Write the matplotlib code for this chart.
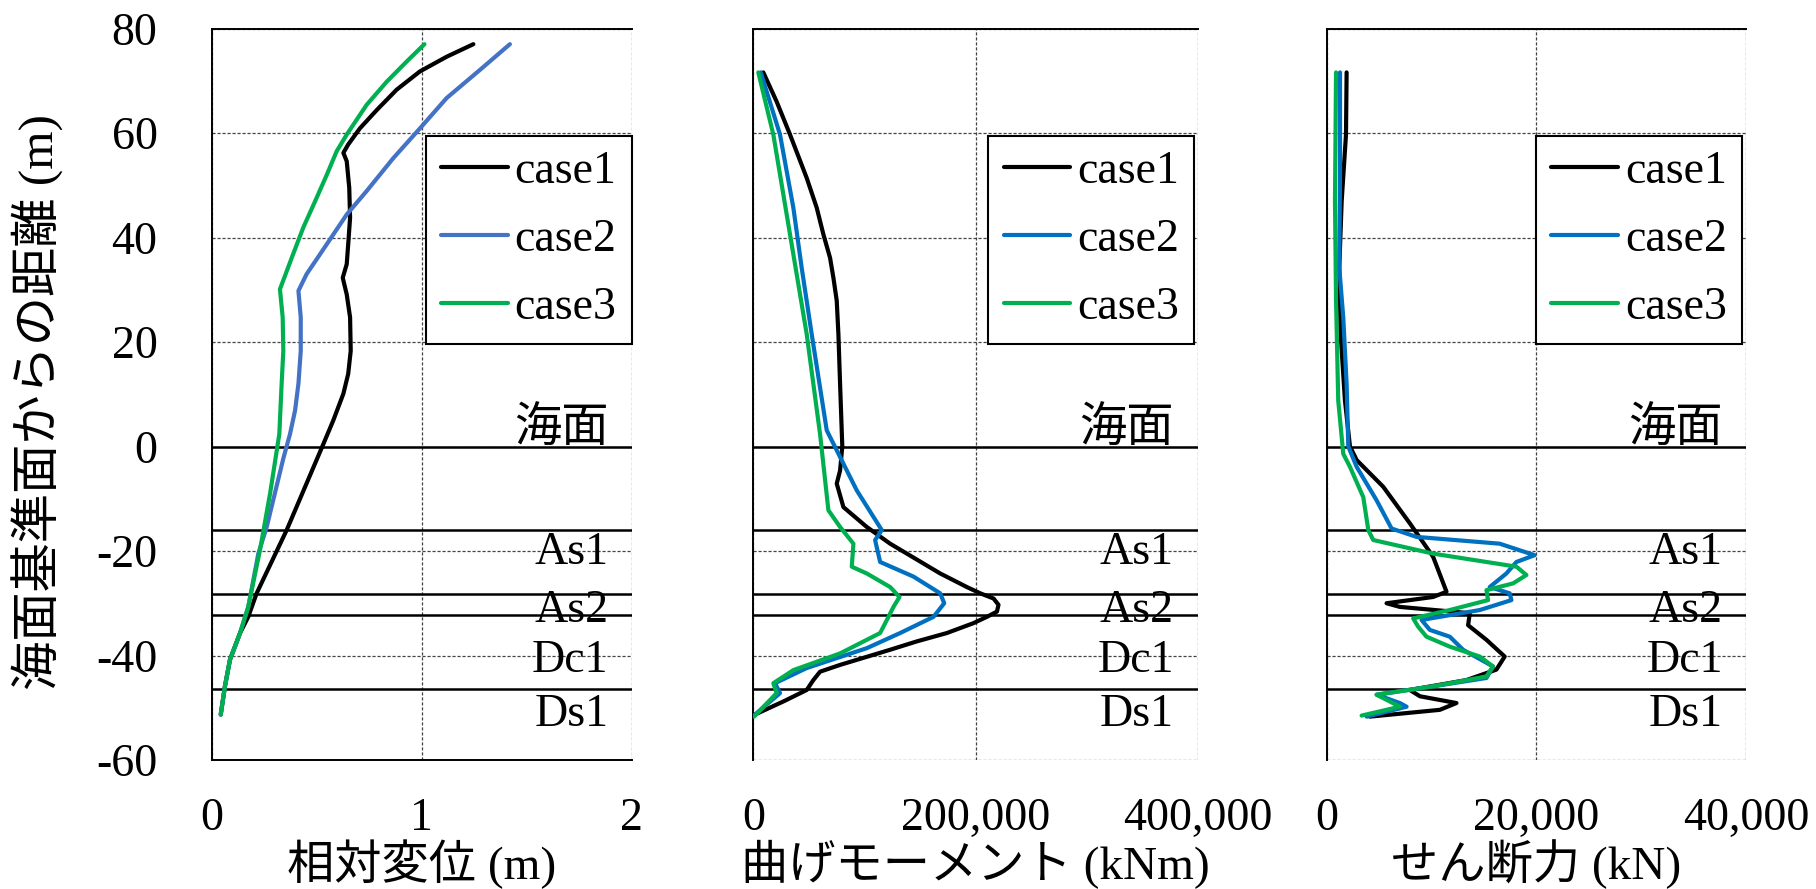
import matplotlib
matplotlib.use('Agg')
import matplotlib.pyplot as plt
from matplotlib.ticker import FuncFormatter

plt.rcParams['font.family'] = ['Liberation Serif', 'Noto Sans CJK JP']
plt.rcParams['axes.unicode_minus'] = False

# ---- data (depth in m, value) ----
case_names = ['case1', 'case2', 'case3']

# relative displacement (m)
disp_y1 = [77, 74.6, 71.8, 68.3, 64.4, 60.9, 57.8, 56.2, 54.6, 49.5, 43.8, 38.7, 34.9, 32.3, 29.1, 24.7, 18.3,
           13.9, 10.1, 5.0, 0.5, -16.0, -28.1, -32.6, -35.7, -40.8, -45.9, -51.3]
disp_x1 = [1.246, 1.119, 0.992, 0.881, 0.786, 0.706, 0.65, 0.627, 0.643, 0.655, 0.659, 0.65, 0.643, 0.624, 0.643,
           0.659, 0.662, 0.65, 0.627, 0.579, 0.532, 0.357, 0.214, 0.174, 0.135, 0.087, 0.063, 0.043]
disp_y2 = [77, 72.1, 66.7, 60.9, 55.2, 48.9, 44.4, 36.8, 33.0, 29.8, 24.7, 18.3, 12.0, 6.9, 2.4, -2.3, -15.4,
           -20.5, -30.7, -35.7, -40.8, -45.9, -51.3]
disp_x2 = [1.42, 1.278, 1.119, 0.992, 0.865, 0.738, 0.643, 0.516, 0.452, 0.413, 0.424, 0.424, 0.413, 0.397, 0.373,
           0.341, 0.262, 0.222, 0.174, 0.135, 0.087, 0.063, 0.043]
disp_y3 = [77, 73.7, 69.8, 65.4, 59.7, 56.5, 52.0, 46.9, 41.9, 36.1, 30.1, 24.7, 18.3, 12.0, 2.4, -9.0, -19.8,
           -30.7, -35.7, -40.8, -45.9, -51.3]
disp_x3 = [1.013, 0.929, 0.833, 0.738, 0.643, 0.595, 0.548, 0.492, 0.436, 0.381, 0.325, 0.338, 0.341, 0.333, 0.322,
           0.278, 0.23, 0.174, 0.135, 0.087, 0.063, 0.043]

# bending moment (kNm)
mom_y1 = [71.6, 66.0, 59.7, 51.4, 45.7, 40.6, 36.1, 32.3, 27.9, 21.5, 12.0, 0.0, -4.6, -7.1, -11.6, -15.4, -18.6,
          -24.3, -26.9, -28.1, -29.1, -30.3, -31.6, -32.6, -33.8, -35.7, -37.3, -38.9, -41.8, -43.1, -44.7, -46.6,
          -48.8, -51.3]
mom_x1 = [9000, 21000, 33000, 48000, 57000, 63000, 69000, 72000, 75000, 76500, 78000, 80000, 78000, 75000, 81000,
          102000, 123000, 168000, 192000, 204000, 216000, 220400, 219000, 210000, 198000, 174000, 147000, 123000,
          78000, 60000, 54000, 48000, 27000, 1500]
mom_y2 = [71.6, 59.7, 45.7, 34.2, 21.5, 3.1, -8.4, -16.0, -17.9, -22.1, -24.9, -28.1, -30.0, -32.6, -35.7, -38.6,
          -42.4, -45.3, -47.2, -51.3]
mom_x2 = [6700, 24000, 36000, 43500, 52500, 66000, 93000, 115500, 109500, 114000, 144000, 168000, 171600, 162000,
          132000, 102000, 48000, 19500, 24000, 1500]
mom_y3 = [71.6, 59.7, 40.6, 21.5, 2.4, -12.2, -15.4, -18.6, -23.0, -24.3, -26.9, -28.8, -30.7, -32.6, -35.7,
          -39.6, -42.8, -45.3, -47.2, -51.7]
mom_x3 = [4500, 18000, 33000, 48000, 60000, 67500, 78000, 90000, 88500, 102000, 123000, 131400, 126000, 121500,
          114000, 78000, 36000, 18000, 21000, 600]

# shear force (kN)
shear_y1 = [71.6, 59.7, 47.0, 34.2, 21.5, 8.8, 0.0, -2.6, -7.7, -14.7, -21.1, -27.8, -28.8, -30.0, -30.7, -31.9,
            -34.2, -37.0, -40.2, -42.7, -44.7, -46.6, -47.8, -49.1, -50.4, -51.7]
shear_x1 = [1900, 1840, 1430, 1200, 1330, 1740, 2220, 2860, 5390, 7930, 10150, 11430, 10150, 5710, 6980, 13650,
            13490, 15240, 16980, 16190, 13330, 7930, 8890, 12380, 10790, 4120]
shear_y2 = [71.6, 52.0, 34.2, 24.7, 12.0, 0.0, -3.9, -10.3, -15.7, -17.3, -18.6, -20.8, -22.1, -24.3, -26.9,
            -28.1, -29.4, -31.3, -33.2, -35.1, -36.4, -38.9, -42.1, -44.3, -45.9, -47.5, -49.1, -49.8, -51.7]
shear_x2 = [1270, 1270, 1200, 1580, 1900, 2060, 2860, 4760, 6190, 8570, 16500, 19840, 18100, 17140, 15550,
            17460, 17620, 14600, 9050, 9840, 11740, 13010, 15870, 15240, 10150, 4760, 6980, 7620, 3810]
shear_y3 = [71.6, 47.0, 28.0, 8.8, -1.4, -3.9, -9.7, -16.0, -17.9, -20.5, -23.0, -24.6, -26.2, -27.5, -29.4,
            -31.3, -32.9, -34.5, -36.4, -38.3, -40.2, -42.1, -44.0, -45.9, -47.5, -49.8, -51.5]
shear_x3 = [890, 790, 890, 1100, 1580, 2220, 3490, 3970, 4440, 10150, 18100, 19050, 17780, 15240, 15390,
            11740, 8250, 8730, 9520, 11740, 14600, 15870, 15240, 10150, 4760, 6980, 3330]

# soil layer boundaries and labels
layer_lines = [0, -16.0, -28.2, -32.2, -46.5]
layer_names = ['海面', 'As1', 'As2', 'Dc1', 'Ds1']
layer_label_y = [0.8, -22.4, -33.5, -43.1, -53.4]

y_ticks = [-60, -40, -20, 0, 20, 40, 60, 80]
x_limits = [(0, 2), (0, 400000), (0, 40000)]
x_ticks = [[0, 1, 2], [0, 200000, 400000], [0, 20000, 40000]]
x_labels = ['相対変位 (m)', '曲げモーメント (kNm)', 'せん断力 (kN)']
y_label = '海面基準面からの距離 (m)'

series = [
    [(disp_x1, disp_y1), (disp_x2, disp_y2), (disp_x3, disp_y3)],
    [(mom_x1, mom_y1), (mom_x2, mom_y2), (mom_x3, mom_y3)],
    [(shear_x1, shear_y1), (shear_x2, shear_y2), (shear_x3, shear_y3)],
]
colors = [
    ['#000000', '#4472C4', '#00B050'],
    ['#000000', '#0070C0', '#00B050'],
    ['#000000', '#0070C0', '#00B050'],
]

W, H = 1816, 889
fig = plt.figure(figsize=(W / 100, H / 100), dpi=100)

# axes boxes in pixels: left, right (top/bottom shared)
boxes = [(211.7, 631.7), (753.3, 1198.3), (1326.7, 1746.0)]
top_px, bot_px = 28.5, 760.0

FS = 33     # latin text
FS_JP = 34  # labels containing japanese
for i, (l, r) in enumerate(boxes):
    ax = fig.add_axes([l / W, 1 - bot_px / H, (r - l) / W, (bot_px - top_px) / H])
    for (xs, ys), c, name in zip(series[i], colors[i], case_names):
        ax.plot(xs, ys, color=c, lw=3, label=name, solid_capstyle='round', solid_joinstyle='round', zorder=3)
    for yl in layer_lines:
        ax.axhline(yl, color='black', lw=1.8, zorder=2)
    for nm, yy in zip(layer_names, layer_label_y):
        ax.text(0.945, yy, nm, transform=ax.get_yaxis_transform(), ha='right', va='baseline',
                fontsize=FS_JP if nm == '海面' else FS, zorder=4)

    ax.set_xlim(*x_limits[i])
    ax.set_ylim(-60, 80)
    ax.set_xticks(x_ticks[i])
    ax.set_yticks(y_ticks)
    if i > 0:
        ax.xaxis.set_major_formatter(FuncFormatter(lambda v, p: f'{v:,.0f}'))
    ax.grid(True, linestyle=(0, (2.5, 1.5)), color='#444444', lw=0.9, zorder=1)
    ax.tick_params(axis='both', length=0, labelsize=FS)
    ax.tick_params(axis='x', pad=27)
    ax.tick_params(axis='y', pad=39, labelleft=(i == 0))

    for s in ['left', 'top', 'bottom']:
        ax.spines[s].set_linewidth(1.4)
        ax.spines[s].set_color('black')
    ax.spines['right'].set_visible(False)
    if i > 0:
        ax.spines['bottom'].set_visible(False)

    leg = ax.legend(loc='upper right', bbox_to_anchor=(1.0 if i == 0 else 0.99, 0.8535), fontsize=FS,
                    fancybox=False, framealpha=1, edgecolor='black', borderpad=0.33, handlelength=1.45,
                    handletextpad=0.15, labelspacing=0.55, borderaxespad=0)
    leg.get_frame().set_linewidth(1.5)

    ax.set_xlabel(x_labels[i], fontsize=FS_JP)
    ax.xaxis.set_label_coords(0.5, -0.1627)
    ax.xaxis.label.set_verticalalignment('baseline')
    if i == 0:
        ax.set_ylabel(y_label, fontsize=35.5)
        ax.yaxis.set_label_coords(-0.414, 0.49)
        ax.yaxis.label.set_verticalalignment('center')

fig.savefig('out.png', dpi=100)
